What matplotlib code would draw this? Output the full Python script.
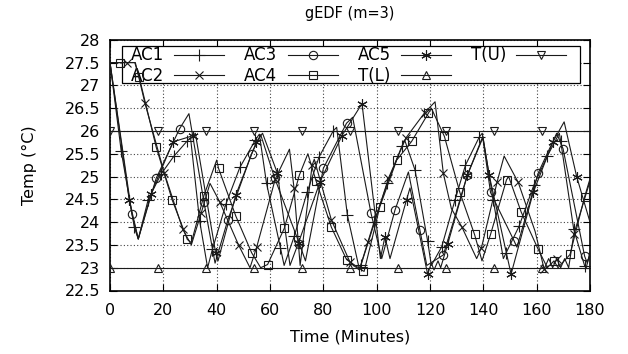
import matplotlib
matplotlib.use("Agg")
import matplotlib.pyplot as plt
from matplotlib.lines import Line2D
from matplotlib.patches import Rectangle

# ---------------- data ----------------
# bounds
tu_t = [0, 18, 36, 54, 72, 90, 108, 126, 144, 162, 180]
tu_v = [26.0, 26.0, 26.0, 26.0, 26.0, 26.0, 26.0, 26.0, 26.0, 26.0, 26.0]
tu_m = [1, 1, 1, 1, 1, 1, 1, 1, 1, 1, 0]
tl_t = [0, 18, 36, 54, 72, 90, 108, 126, 144, 162, 180]
tl_v = [23.0, 23.0, 23.0, 23.0, 23.0, 23.0, 23.0, 23.0, 23.0, 23.0, 23.0]
tl_m = [1, 1, 1, 1, 1, 1, 1, 1, 1, 1, 0]

# AC1 (+)
ac1_t = [0, 4.2, 9.1, 10.6, 14.3, 19.1, 24, 28.8, 30.2, 33.6, 36.6, 38.4, 43.5, 48.7, 54.5, 56,
         58.7, 63.9, 65.3, 69.1, 74, 78.4, 83.7, 85, 89, 93.5, 94, 99, 104, 109.4, 110.5, 114.4,
         119.1, 120.5, 124.4, 129.4, 133.3, 138.5, 139.6, 143.7, 147.5, 148.5, 153.4, 159, 164,
         168.5, 169, 173.9, 178, 178.6, 180]
ac1_v = [27.5, 25.56, 23.89, 23.63, 24.49, 25.05, 25.45, 25.77, 25.85, 24.03, 23.0, 23.4, 24.4,
         25.2, 25.8, 25.93, 24.85, 23.44, 23.05, 23.69, 24.67, 25.43, 26.0, 26.08, 24.16, 22.97,
         23.05, 24.0, 24.85, 25.66, 25.8, 25.14, 23.59, 23.05, 23.46, 24.49, 25.25, 25.87, 25.95,
         24.49, 23.2, 23.32, 23.91, 24.82, 25.45, 25.95, 25.78, 23.84, 23.04, 23.0, 23.35]
ac1_m = [0, 1, 1, 0, 1, 1, 1, 1, 0, 1, 0, 1, 1, 1, 1, 0, 1, 1, 0, 1, 1, 1, 1, 0, 1, 0, 1, 1, 1,
         1, 0, 1, 1, 0, 1, 1, 1, 1, 0, 1, 0, 1, 1, 1, 1, 0, 1, 1, 1, 0, 0]

# AC2 (x)
ac2_t = [0, 6.4, 9.5, 13.1, 20.4, 27.3, 30.5, 34.2, 37.5, 41.1, 48.2, 52.5, 55, 62, 67.3, 69,
         71.3, 75.8, 76.6, 83, 90, 93.5, 96.9, 104.4, 111, 118, 121.9, 125, 128, 131.9, 137.5,
         139.3, 145.2, 147.8, 153.1, 159.4, 162.8, 164.5, 166, 167.5, 169, 170.5, 172, 173.9,
         180]
ac2_v = [27.5, 27.5, 27.5, 26.61, 25.07, 23.84, 23.5, 24.2, 24.85, 24.45, 23.5, 23.0, 23.45,
         24.95, 25.6, 24.75, 23.05, 25.25, 25.38, 24.05, 23.12, 22.95, 23.57, 24.96, 25.85,
         26.4, 26.64, 25.07, 24.3, 23.9, 23.2, 23.44, 24.89, 25.45, 24.87, 23.8, 22.97, 23.2,
         23.0, 23.2, 23.0, 23.2, 23.0, 23.73, 24.9]
ac2_m = [0, 1, 0, 1, 1, 1, 0, 1, 0, 1, 1, 0, 1, 1, 0, 1, 0, 1, 0, 1, 1, 0, 1, 1, 1, 1, 0, 1, 0,
         1, 0, 1, 1, 0, 1, 0, 1, 0, 0, 1, 0, 0, 0, 1, 0]

# AC3 (o)
ac3_t = [0, 8.2, 10.6, 17.3, 26.1, 29.6, 35.2, 39.4, 44.2, 53.1, 56.5, 61.8, 71, 73.3, 80, 88.7,
         91, 97.9, 101.9, 106.9, 111.9, 116.2, 118.8, 125, 134, 139.8, 142.7, 151.6, 152.6,
         160.6, 167.5, 169.9, 178, 179, 180]
ac3_v = [27.5, 24.18, 23.63, 24.96, 26.05, 26.38, 24.45, 23.1, 24.05, 25.5, 25.92, 24.96, 23.53,
         23.15, 25.18, 26.17, 26.3, 24.19, 23.2, 24.27, 25.1, 23.83, 23.05, 23.28, 25.03, 25.85,
         24.65, 23.58, 23.45, 25.08, 25.95, 25.61, 23.25, 23.1, 23.3]
ac3_m = [0, 1, 0, 1, 1, 0, 1, 0, 1, 1, 0, 1, 1, 0, 1, 1, 0, 1, 0, 1, 0, 1, 0, 1, 1, 0, 1, 1, 0,
         1, 0, 1, 1, 0, 0]

# AC4 (square)
ac4_t = [0, 3.9, 9.3, 10.9, 17.3, 23.3, 29, 30.5, 35.2, 40, 40.7, 47.2, 53.1, 56.5, 59.1, 65.4,
         71, 74.2, 77.3, 83, 88.7, 94.9, 95.3, 101.2, 107.5, 113.1, 119.4, 120.5, 125.4, 131.2,
         136.7, 139.5, 142.7, 148.7, 149.5, 154.2, 160.6, 164, 166.5, 168, 172.5, 178, 180]
ac4_v = [27.5, 27.5, 27.5, 27.19, 25.65, 24.49, 23.62, 23.55, 24.58, 25.36, 25.18, 24.13, 23.33,
         23.0, 23.07, 23.87, 25.03, 25.5, 24.9, 23.89, 23.18, 22.93, 22.92, 24.34, 25.36, 25.77,
         26.39, 26.5, 25.88, 24.65, 23.73, 23.15, 23.73, 24.93, 25.0, 24.22, 23.4, 23.0, 23.15,
         23.0, 23.29, 24.56, 24.95]
ac4_m = [0, 1, 0, 1, 1, 1, 1, 0, 1, 0, 1, 1, 1, 0, 1, 1, 1, 0, 1, 1, 1, 1, 0, 1, 1, 1, 1, 0, 1,
         1, 1, 0, 1, 1, 0, 1, 1, 0, 1, 0, 1, 1, 0]

# AC5 (*)
ac5_t = [0, 7.2, 10.6, 15.4, 23.6, 31.3, 32, 39.6, 40.5, 47.2, 54.9, 57.2, 62.8, 67.5, 70.7,
         78.8, 87, 94.5, 101.4, 103.1, 105, 111.2, 112.5, 119.1, 120.5, 121.5, 123, 124, 126.6,
         134, 139.8, 142.2, 150.4, 158.7, 166.1, 170.3, 175, 180]
ac5_v = [27.5, 24.49, 23.63, 24.62, 25.76, 25.9, 25.95, 23.33, 23.15, 24.6, 25.76, 25.95, 25.07,
         23.05, 23.55, 24.89, 25.9, 26.6, 23.2, 23.68, 23.2, 24.49, 24.75, 22.86, 23.1, 22.95,
         23.15, 23.0, 23.51, 25.03, 25.88, 25.03, 22.86, 24.65, 25.76, 26.2, 25.0, 24.0]
ac5_m = [0, 1, 0, 1, 1, 1, 0, 1, 0, 1, 1, 0, 1, 0, 1, 1, 1, 1, 0, 1, 0, 1, 0, 1, 0, 0, 0, 0, 1,
         1, 0, 1, 1, 1, 1, 0, 1, 0]

labels = ["AC1", "AC2", "AC3", "AC4", "AC5", "T(L)", "T(U)"]

# ---------------- style ----------------
plt.rcParams['font.family'] = ['DejaVu Sans']
plt.rcParams['font.size'] = 11.5

series = [
    (ac1_t, ac1_v, ac1_m, "+", 8),
    (ac2_t, ac2_v, ac2_m, "x", 6),
    (ac3_t, ac3_v, ac3_m, "o", 6),
    (ac4_t, ac4_v, ac4_m, "s", 6),
    (ac5_t, ac5_v, ac5_m, (6, 2, 0), 7.5),
    (tl_t, tl_v, tl_m, "^", 5.5),
    (tu_t, tu_v, tu_m, "v", 5.5),
]

fig = plt.figure(figsize=(6.28, 3.54), dpi=100)
AX_L, AX_R, AX_T, AX_B = 110, 590, 39.8, 290.5
W, H = 628, 354
ax = fig.add_axes([AX_L / W, 1 - AX_B / H, (AX_R - AX_L) / W, (AX_B - AX_T) / H])
ax.set_axisbelow(True)

col = "#1a1a1a"
lw = 0.8
handles = []
for (t, v, m, mk, ms), lab in zip(series, labels):
    idx = [i for i, f in enumerate(m) if f]
    ax.plot(t, v, color=col, lw=lw, marker=mk, ms=ms, mfc="none", mec=col, mew=0.8,
            markevery=idx, zorder=3)
    handles.append(Line2D([], [], color=col, lw=lw, marker=mk, ms=ms, mfc="none",
                          mec=col, mew=0.8, label=lab))

ax.set_xlim(0, 180)
ax.set_ylim(22.5, 28)
ax.set_xticks(range(0, 181, 20))
yt = [22.5 + 0.5 * i for i in range(12)]
ax.set_yticks(yt)
ax.set_yticklabels(["%g" % y for y in yt])
ax.grid(True, linestyle=(0, (1, 2)), color="#444444", lw=0.8)
ax.tick_params(direction="in", length=5, width=0.8, top=True, right=True)
ax.tick_params(axis="x", pad=9)
ax.tick_params(axis="y", pad=7)
for s in ax.spines.values():
    s.set_linewidth(1.2)

ax.set_xlabel("Time (Minutes)", labelpad=8)
ax.set_ylabel("Temp (°C)", labelpad=20)
ax.set_title("gEDF (m=3)", fontsize=10.5, pad=16)

# legend box (white background hides the grid, data lines drawn on top)
aw, ah = AX_R - AX_L, AX_B - AX_T
bx0, bx1, by0, by1 = 122, 580, 46, 83
ax.add_patch(Rectangle(((bx0 - AX_L) / aw, 1 - (by1 - AX_T) / ah),
                       (bx1 - bx0) / aw, (by1 - by0) / ah, transform=ax.transAxes,
                       facecolor="white", edgecolor="black", lw=0.9, zorder=1,
                       clip_on=False))

leg = ax.legend(handles=handles, ncol=4, loc="upper left",
                bbox_to_anchor=((131 - AX_L) / aw, 1 - (46.5 - AX_T) / ah),
                markerfirst=False, frameon=False, fontsize=12,
                borderpad=0, labelspacing=0.15, handlelength=3.0,
                handletextpad=0.6, columnspacing=1.2, borderaxespad=0)
leg.set_zorder(2)

fig.savefig("out.png", dpi=100)
